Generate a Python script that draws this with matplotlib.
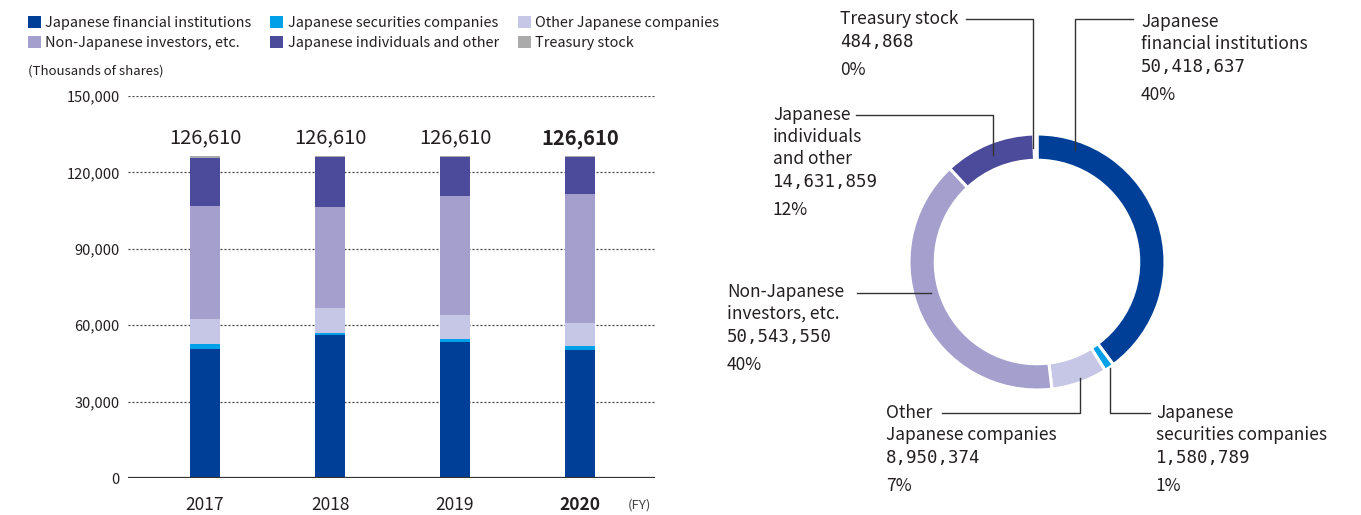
import matplotlib
matplotlib.use("Agg")
import matplotlib.pyplot as plt
import numpy as np

plt.rcParams['font.family'] = ['Noto Sans CJK JP', 'DejaVu Sans']

W, H, DPI = 1361, 515, 100

years = ["2017", "2018", "2019", "2020"]
categories = [
    "Japanese financial institutions",
    "Japanese securities companies",
    "Other Japanese companies",
    "Non-Japanese investors, etc.",
    "Japanese individuals and other",
    "Treasury stock",
]
colors = ["#003f98", "#00a0e9", "#c6c7e6", "#a59fcd", "#4b4a9b", "#aaaaaa"]

# Shareholding breakdown at FY2020 year end (number of shares)
shares_2020 = [50418637, 1580789, 8950374, 50543550, 14631859, 484868]

# Shares held by each holder type (thousands of shares), FY2017-FY2020
financial = [50700, 56150, 53550, shares_2020[0] / 1000]
securities = [1900, 800, 1000, shares_2020[1] / 1000]
other_companies = [9800, 9800, 9450, shares_2020[2] / 1000]
non_japanese = [44400, 39650, 46700, shares_2020[3] / 1000]
individuals = [18990, 19610, 15410, shares_2020[4] / 1000]
treasury = [820, 600, 500, shares_2020[5] / 1000]

yticks = [0, 30000, 60000, 90000, 120000, 150000]

# Label text for the donut chart
donut_names = [
    ["Japanese", "financial institutions"],
    ["Japanese", "securities companies"],
    ["Other", "Japanese companies"],
    ["Non-Japanese", "investors, etc."],
    ["Japanese", "individuals", "and other"],
    ["Treasury stock"],
]

fig = plt.figure(figsize=(W / DPI, H / DPI), dpi=DPI)
fig.patch.set_facecolor("white")

def fx(px):
    return px / W

def fy(py):
    return 1 - py / H

TEXT = "#231f20"
MONO = ["DejaVu Sans Mono"]

# ---------------- Stacked bar chart ----------------
ax = fig.add_axes([fx(128), fy(478), fx(655) - fx(128), fy(96) - fy(478)])
x = np.arange(len(years))
series = [financial, securities, other_companies, non_japanese, individuals, treasury]
bottom = np.zeros(len(years))
handles = []
for vals, col, name in zip(series, colors, categories):
    bars = ax.bar(x, vals, width=0.24, bottom=bottom, color=col, label=name,
                  edgecolor="none", zorder=3)
    handles.append(bars)
    bottom = bottom + np.array(vals)

totals = bottom
for i, t in enumerate(totals):
    ax.annotate(f"{round(t):,}", (x[i], t), xytext=(0, 5), textcoords="offset points",
                ha="center", va="bottom", fontsize=14.5, color=TEXT,
                fontweight="bold" if i == len(years) - 1 else "normal")

ax.set_xlim(-0.616, 3.6)
ax.set_ylim(0, 150000)
ax.set_yticks(yticks)
ax.set_yticklabels([f"{v:,}" for v in yticks], fontsize=10.5, color=TEXT)
for v in yticks[1:]:
    ax.axhline(v, color="#444444", lw=0.9, ls=(0, (1.6, 1.6)), zorder=1)
ax.axhline(0, color="#333333", lw=1.6, zorder=4)
ax.tick_params(axis="y", length=0, pad=6)
ax.tick_params(axis="x", length=0, pad=13)
ax.set_xticks(x)
ax.set_xticklabels(years, fontsize=12.5, color=TEXT)
ax.get_xticklabels()[-1].set_fontweight("bold")
for s in ax.spines.values():
    s.set_visible(False)

fig.text(fx(628), fy(505), "(FY)", fontsize=9.5, color="#444444", va="center", ha="left")
fig.text(fx(28), fy(71), "(Thousands of shares)", fontsize=9.5, color=TEXT, va="center", ha="left")

order = [0, 3, 1, 4, 2, 5]
leg = fig.legend([handles[i] for i in order], [categories[i] for i in order], ncol=3,
                 loc="upper left", bbox_to_anchor=(fx(28), fy(16)), frameon=False,
                 fontsize=10.4, handlelength=0.9, handleheight=0.9, handletextpad=0.3,
                 columnspacing=1.3, labelspacing=0.42, borderaxespad=0, borderpad=0)
for t in leg.get_texts():
    t.set_color(TEXT)

# ---------------- Donut chart ----------------
cx, cy, R = 1037, 262, 128
dax = fig.add_axes([fx(cx - R), fy(cy + R), fx(2 * R), fy(0) - fy(2 * R)])
dax.pie(shares_2020, colors=colors, startangle=90, counterclock=False, radius=1,
        wedgeprops=dict(width=0.205, edgecolor="white", linewidth=2.2))
dax.set_xlim(-1, 1)
dax.set_ylim(-1, 1)
dax.set_aspect("equal")
dax.axis("off")

# overlay in pixel coordinates for labels and leader lines
ov = fig.add_axes([0, 0, 1, 1], facecolor="none")
ov.set_xlim(0, W)
ov.set_ylim(H, 0)
ov.axis("off")

# text x, first line y, leader polyline
label_layout = [
    (1141, 22, [(1133, 19), (1075, 19), (1075, 150)]),
    (1156, 413, [(1150, 413), (1110, 413), (1110, 368)]),
    (886, 413, [(942, 413), (1080, 413), (1080, 378)]),
    (727, 292, [(857, 293), (931, 293)]),
    (773, 115, [(856, 115), (993, 115), (993, 155)]),
    (840, 19, [(966, 19), (1033, 19), (1033, 148)]),
]

total_shares = sum(shares_2020)
for names, val, (tx, ty, pts) in zip(donut_names, shares_2020, label_layout):
    y = ty
    for line in names:
        ov.text(tx, y, line, fontsize=12.5, color=TEXT, ha="left", va="center")
        y += 22
    y += 1
    ov.text(tx, y, f"{val:,}", fontsize=12.5, color=TEXT, ha="left", va="center",
            family=MONO)
    y += 28
    ov.text(tx, y, f"{round(val / total_shares * 100)}%", fontsize=12.5, color=TEXT,
            ha="left", va="center")
    xs, ys = zip(*pts)
    ov.plot(xs, ys, color="#333333", lw=1.0)

fig.savefig("out.png", dpi=DPI, facecolor="white")
